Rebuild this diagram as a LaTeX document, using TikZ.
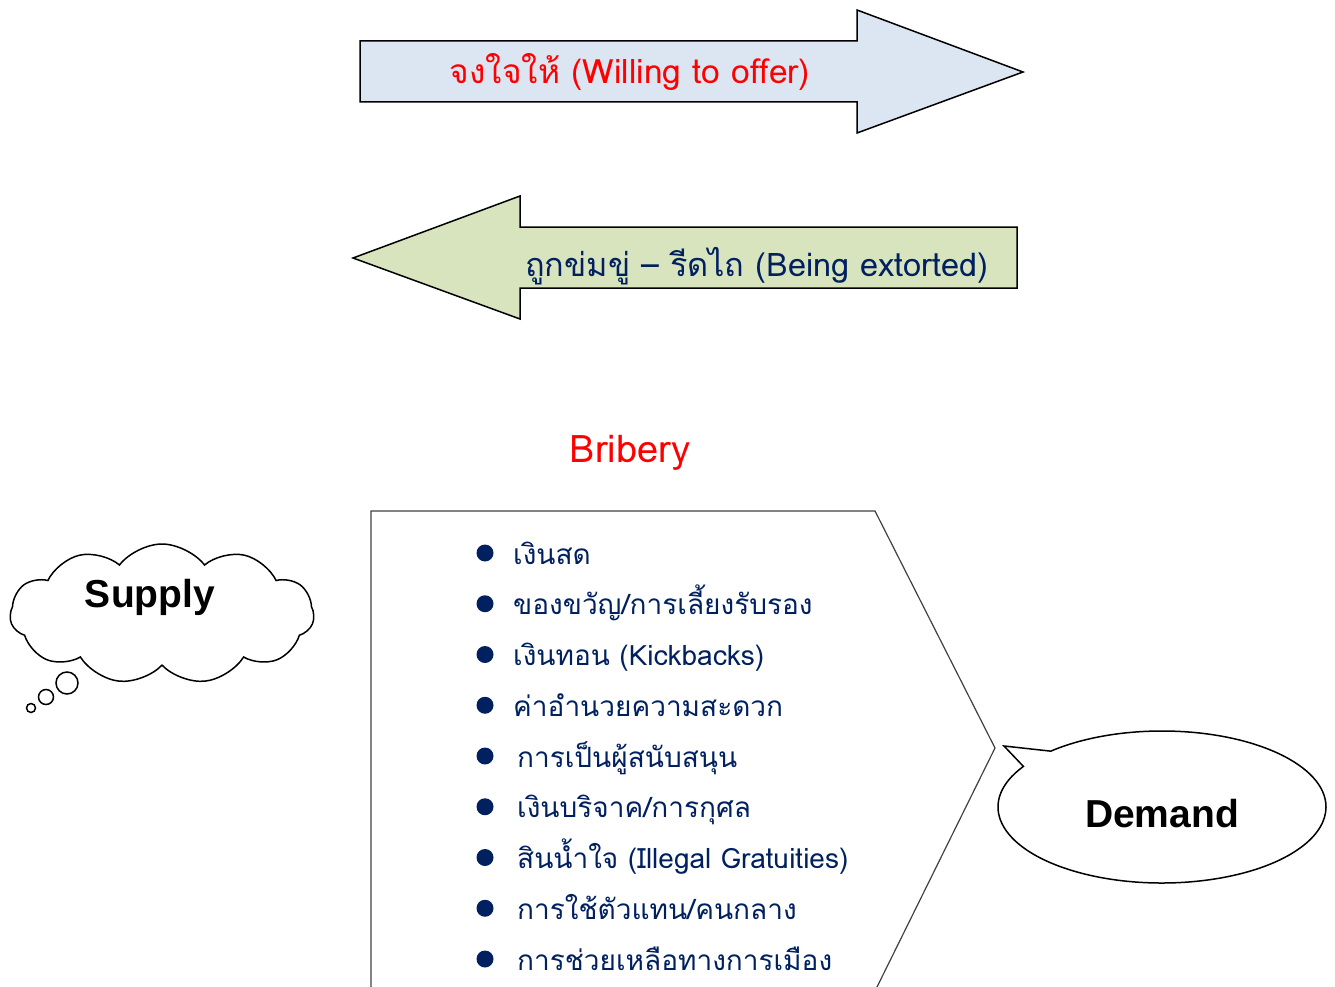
\documentclass[tikz,border=0pt]{standalone}
\usepackage{fontspec}
\usepackage{tikz}
\usetikzlibrary{shapes.callouts,shapes.symbols}
\setsansfont{Liberation Sans}
\newfontfamily\thaifont[Script=Thai]{Loma}

\begin{document}
\begin{tikzpicture}[x=1pt,y=-1pt,
                    blockarrow/.style={draw=black, line width=1.5pt, line join=miter},
                    listdot/.style={circle, fill=navy, inner sep=0pt, minimum size=17pt},
                    listitem/.style={anchor=base west, inner sep=0pt, text=navy,
                                     font=\thaifont\fontsize{28}{30}\selectfont},
                    bubble/.style={circle, draw=black, line width=1.5pt, inner sep=0pt},
                    bigword/.style={font=\sffamily\bfseries\fontsize{39}{40}\selectfont}]
                    % Define colors
                    \definecolor{navy}{RGB}{0,32,96}
                    \definecolor{offerfill}{RGB}{220,230,242}
                    \definecolor{extortfill}{RGB}{215,228,189}
                    \useasboundingbox (0,0) rectangle (1335,987);

                    % Arrow to the right: willing to offer
                    \draw[blockarrow, fill=offerfill] (360,41) -- (857,41) -- (857,10) -- (1023,72)
                        -- (857,133) -- (857,102) -- (360,102) -- cycle;
                    \node[anchor=base, text=red, font=\thaifont\fontsize{33.5}{35}\selectfont]
                        (offer) at (630,84) {จงใจให้ (Willing to offer)};

                    % Arrow to the left: being extorted
                    \draw[blockarrow, fill=extortfill] (1017,227) -- (520,227) -- (520,196) -- (353,258)
                        -- (520,319) -- (520,288) -- (1017,288) -- cycle;
                    \node[anchor=base, text=navy, font=\thaifont\fontsize{32.5}{34}\selectfont]
                        (extort) at (757,276) {ถูกข่มขู่ – รีดไถ (Being extorted)};

                    % Title
                    \node[anchor=base, text=red, font=\thaifont\fontsize{38}{40}\selectfont]
                        (bribery) at (630,462) {Bribery};

                    % Pentagon frame round the list
                    \draw[black!75, line width=1.2pt] (371,987) -- (371,511) -- (875,511) -- (995,748) -- (877,987);

                    % List of forms of bribery
                    \foreach \i/\dx/\item in {0/0/{เงินสด}, 1/0/{ของขวัญ/การเลี้ยงรับรอง}, 2/0/{เงินทอน (Kickbacks)},
                                          3/0/{ค่าอำนวยความสะดวก}, 4/4/{การเป็นผู้สนับสนุน}, 5/4/{เงินบริจาค/การกุศล},
                                          6/4/{สินน้ำใจ (Illegal Gratuities)}, 7/4/{การใช้ตัวแทน/คนกลาง},
                                          8/4/{การช่วยเหลือทางการเมือง}} {
                        \pgfmathsetmacro{\y}{553+\i*50.75}
                        \node[listdot] (dot\i) at (485,\y) {};
                        \node[listitem] (item\i) at (513+\dx,\y+11) {\item};
                    }

                    % Supply thought cloud
                    \node[cloud, draw=black, line width=1.5pt, cloud puffs=11, cloud puff arc=105, cloud ignores aspect,
                          minimum width=304pt, minimum height=140pt] (supplycloud) at (162,614) {};
                    \node[bigword] (supply) at (150,597) {Supply};
                    \node[bubble, minimum size=22pt] (think1) at (67,683) {};
                    \node[bubble, minimum size=15pt] (think2) at (46,697) {};
                    \node[bubble, minimum size=9pt] (think3) at (31,708) {};

                    % Demand speech bubble
                    \node[ellipse callout, draw=black, line width=1.5pt, minimum width=328pt, minimum height=152pt,
                          callout absolute pointer={(1004,746)}] (demand) at (1162,807) {};
                    \node[bigword] (demandtext) at (1162,814) {Demand};
\end{tikzpicture}
\end{document}
